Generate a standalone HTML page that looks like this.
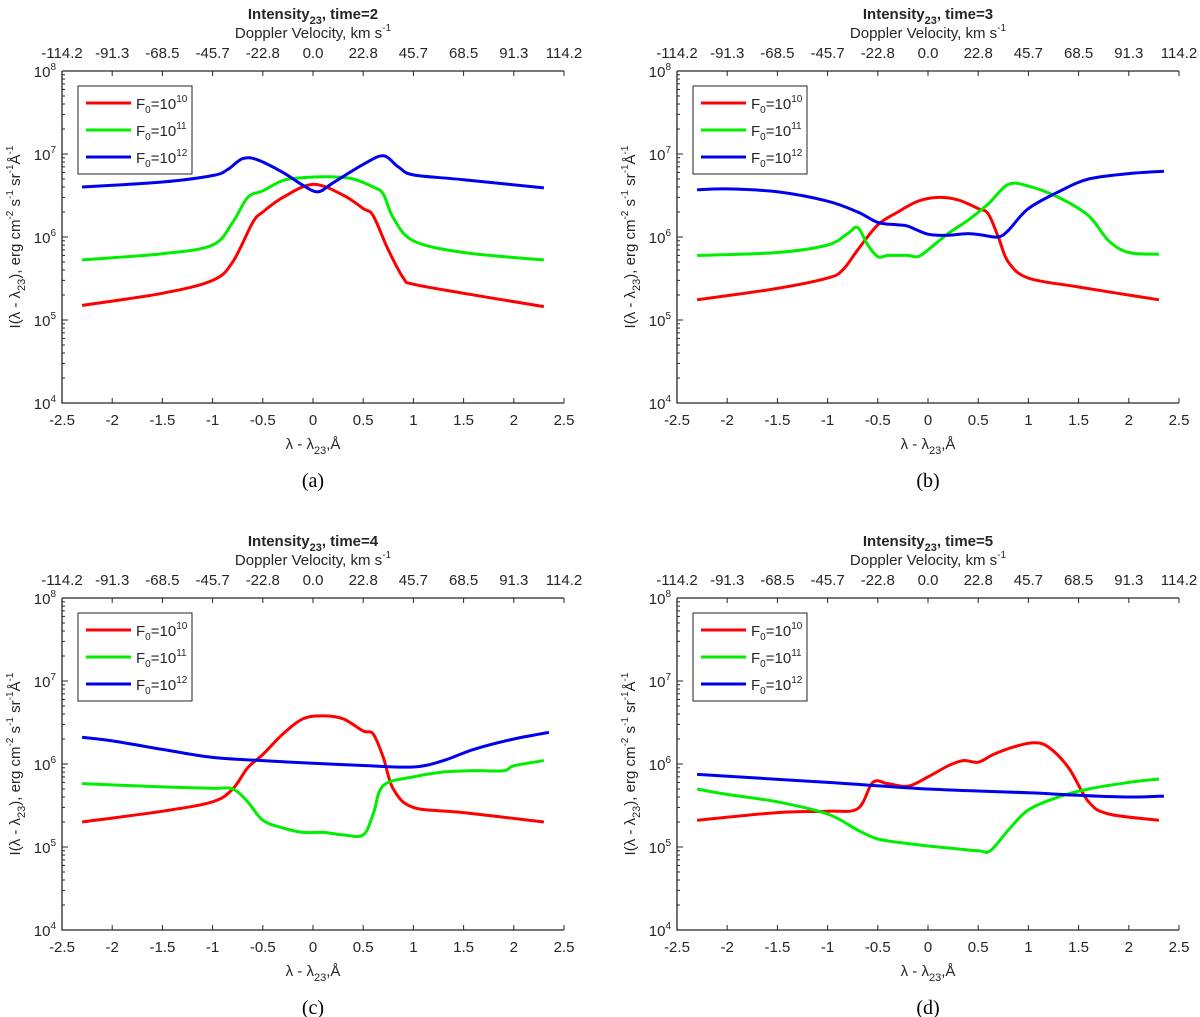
<!DOCTYPE html>
<html><head><meta charset="utf-8"><style>
html,body{margin:0;padding:0;background:#fff}
svg{display:block}
text{font-family:"Liberation Sans",sans-serif;fill:#262626}
.cap{font-family:"Liberation Serif",serif;fill:#000}
</style></head><body>
<svg id="fig" width="1200" height="1017" viewBox="0 0 1200 1017"></svg>
<script>
const xs_a=[-2.3,-1.5,-1,-0.8,-0.6,-0.5,-0.3,0,0.3,0.5,0.6,0.75,0.9,1,1.5,2.3];
const red_a=[1.5e5,2.1e5,3e5,5e5,1.5e6,2e6,3e6,4.3e6,3.2e6,2.2e6,1.8e6,7e5,3.2e5,2.7e5,2.1e5,1.45e5];
const xg_a=[-2.3,-1.5,-1,-0.8,-0.65,-0.5,-0.3,-0.1,0.2,0.4,0.6,0.7,0.8,1,1.5,2.3];
const green_a=[5.3e5,6.3e5,8e5,1.5e6,3e6,3.6e6,4.8e6,5.2e6,5.3e6,5e6,4e6,3.3e6,1.7e6,9e5,6.5e5,5.3e5];
const xb_a=[-2.3,-1.5,-1,-0.85,-0.7,-0.55,-0.3,-0.1,0.05,0.2,0.5,0.7,0.85,1,1.5,2.3];
const blue_a=[4e6,4.6e6,5.5e6,6.5e6,8.8e6,8.5e6,6e6,4.2e6,3.5e6,4.5e6,7.5e6,9.5e6,7e6,5.6e6,4.9e6,3.9e6];

const xr_b=[-2.3,-1.5,-1,-0.85,-0.7,-0.5,-0.3,-0.1,0.1,0.3,0.5,0.6,0.7,0.8,1,1.5,2.3];
const red_b=[1.75e5,2.4e5,3.2e5,4e5,7e5,1.4e6,2e6,2.7e6,3e6,2.8e6,2.2e6,1.9e6,1e6,5e5,3.2e5,2.5e5,1.75e5];
const xg_b=[-2.3,-1.5,-1,-0.8,-0.7,-0.6,-0.5,-0.4,-0.3,-0.2,-0.1,0,0.2,0.4,0.6,0.8,1,1.3,1.6,1.8,2,2.3];
const green_b=[6e5,6.5e5,8e5,1.1e6,1.3e6,8e5,5.8e5,6e5,6e5,6e5,5.8e5,7e5,1.1e6,1.6e6,2.5e6,4.3e6,4.1e6,3e6,1.8e6,9e5,6.5e5,6.2e5];
const xb_b=[-2.3,-2,-1.5,-1,-0.7,-0.5,-0.3,-0.2,0,0.2,0.4,0.55,0.7,0.8,1,1.3,1.6,2,2.35];
const blue_b=[3.7e6,3.8e6,3.5e6,2.7e6,2e6,1.5e6,1.4e6,1.35e6,1.08e6,1.05e6,1.1e6,1.05e6,1e6,1.2e6,2.2e6,3.5e6,5e6,5.8e6,6.2e6];

const xr_c=[-2.3,-1.5,-1,-0.8,-0.65,-0.5,-0.3,-0.1,0.1,0.3,0.5,0.6,0.7,0.8,1,1.5,2.3];
const red_c=[2e5,2.7e5,3.5e5,5e5,9e5,1.3e6,2.3e6,3.5e6,3.8e6,3.5e6,2.5e6,2.3e6,1.2e6,5e5,3e5,2.6e5,2e5];
const xg_c=[-2.3,-1.5,-1,-0.8,-0.65,-0.5,-0.3,-0.1,0.1,0.3,0.5,0.6,0.7,1,1.3,1.6,1.9,2,2.3];
const green_c=[5.8e5,5.3e5,5.1e5,5e5,3.5e5,2.1e5,1.7e5,1.5e5,1.5e5,1.4e5,1.4e5,2.5e5,5.5e5,7e5,8e5,8.3e5,8.3e5,9.5e5,1.1e6];
const xb_c=[-2.3,-2,-1.5,-1,-0.5,0,0.5,1,1.3,1.6,2,2.35];
const blue_c=[2.1e6,1.9e6,1.5e6,1.2e6,1.1e6,1.02e6,9.6e5,9.2e5,1.1e6,1.5e6,2e6,2.4e6];

const xr_d=[-2.3,-1.5,-1,-0.7,-0.55,-0.4,-0.2,0,0.2,0.35,0.5,0.65,0.85,1.05,1.2,1.4,1.6,1.8,2.3];
const red_d=[2.1e5,2.6e5,2.7e5,2.9e5,6e5,5.8e5,5.4e5,7e5,9.5e5,1.1e6,1.05e6,1.3e6,1.6e6,1.8e6,1.6e6,9e5,3.5e5,2.5e5,2.1e5];
const xg_d=[-2.3,-2,-1.5,-1,-0.7,-0.5,-0.2,0.1,0.5,0.62,0.8,1,1.3,1.6,2,2.3];
const green_d=[5e5,4.3e5,3.5e5,2.5e5,1.6e5,1.25e5,1.1e5,1e5,9e4,9e4,1.6e5,2.8e5,4e5,5e5,6e5,6.6e5];
const xb_d=[-2.3,-1,0,1,1.5,2,2.35];
const blue_d=[7.5e5,6e5,5e5,4.5e5,4.2e5,4e5,4.1e5];

const xTicks=[-2.5,-2,-1.5,-1,-0.5,0,0.5,1,1.5,2,2.5];
const xTickLabels=["-2.5","-2","-1.5","-1","-0.5","0","0.5","1","1.5","2","2.5"];
const vTickLabels=["-114.2","-91.3","-68.5","-45.7","-22.8","0.0","22.8","45.7","68.5","91.3","114.2"];
const yDecades=[4,5,6,7,8];
const times=[2,3,4,5];
const captions=["(a)","(b)","(c)","(d)"];

const panels=[
 {x0:62,y0:71,series:[[xs_a,red_a],[xg_a,green_a],[xb_a,blue_a]]},
 {x0:677,y0:71,series:[[xr_b,red_b],[xg_b,green_b],[xb_b,blue_b]]},
 {x0:62,y0:598,series:[[xr_c,red_c],[xg_c,green_c],[xb_c,blue_c]]},
 {x0:677,y0:598,series:[[xr_d,red_d],[xg_d,green_d],[xb_d,blue_d]]}
];
const colors=["#ff0000","#00ee00","#0000ee"];
const legendExp=["10","11","12"];
const W=502,H=332;
const NS="http://www.w3.org/2000/svg";
const svg=document.getElementById('fig');
function mk(tag,attrs,parent){const e=document.createElementNS(NS,tag);for(const k in attrs)e.setAttribute(k,attrs[k]);(parent||svg).appendChild(e);return e;}
function smooth(pts){
 let d="M"+pts[0][0].toFixed(1)+","+pts[0][1].toFixed(1);
 for(let i=0;i<pts.length-1;i++){
  const p0=pts[Math.max(0,i-1)],p1=pts[i],p2=pts[i+1],p3=pts[Math.min(pts.length-1,i+2)];
  const c1=[p1[0]+(p2[0]-p0[0])/6,p1[1]+(p2[1]-p0[1])/6];
  const c2=[p2[0]-(p3[0]-p1[0])/6,p2[1]-(p3[1]-p1[1])/6];
  d+="C"+c1[0].toFixed(1)+","+c1[1].toFixed(1)+" "+c2[0].toFixed(1)+","+c2[1].toFixed(1)+" "+p2[0].toFixed(1)+","+p2[1].toFixed(1);
 }
 return d;
}
panels.forEach((p,pi)=>{
 const g=mk('g',{});
 
 
 const sx=v=>p.x0+(v+2.5)/5*W;
 const sy=v=>p.y0+H-(Math.log10(v)-4)/4*H;
 const cx=p.x0+W/2;
 // title
 const t=mk('text',{x:cx,y:p.y0-52,'text-anchor':'middle','font-size':15,'font-weight':'bold'},g);
 
 
 t.innerHTML='Intensity<tspan font-size="11" dy="5">23</tspan><tspan dy="-5">, time='+times[pi]+'</tspan>';
 const vt=mk('text',{x:cx,y:p.y0-33,'text-anchor':'middle','font-size':15},g);
 
 
 vt.innerHTML='Doppler Velocity, km s<tspan font-size="10" dy="-7">-1</tspan>';
 // axes lines
 const ax=mk('path',{d:`M${p.x0},${p.y0}H${p.x0+W}M${p.x0},${p.y0}V${p.y0+H}H${p.x0+W}`,stroke:'#262626','stroke-width':1.3,fill:'none'},g);
 
 
 xTicks.forEach((v,i)=>{
  const x=sx(v);
  mk('path',{d:`M${x},${p.y0+H}v-5M${x},${p.y0}v5`,stroke:'#262626','stroke-width':1},g);
  const tl=mk('text',{x:x,y:p.y0+H+22,'text-anchor':'middle','font-size':15},g);
  
  
  tl.textContent=xTickLabels[i];
  const tt=mk('text',{x:x,y:p.y0-13,'text-anchor':'middle','font-size':15},g);
  
  
  tt.textContent=vTickLabels[i];
 });
 yDecades.forEach(d=>{
  const y=sy(Math.pow(10,d));
  mk('path',{d:`M${p.x0},${y}h6`,stroke:'#262626','stroke-width':1},g);
  const yl=mk('text',{x:p.x0-6,y:y+6,'text-anchor':'end','font-size':15},g);
  
  
  yl.innerHTML='10<tspan font-size="10" dy="-7">'+d+'</tspan>';
  if(d<8)for(let m=2;m<10;m++){const yy=sy(m*Math.pow(10,d));mk('path',{d:`M${p.x0},${yy}h3`,stroke:'#262626','stroke-width':1},g);}
 });
 const xl=mk('text',{x:cx,y:p.y0+H+46,'text-anchor':'middle','font-size':15},g);
 
 
 xl.innerHTML='λ - λ<tspan font-size="11" dy="5">23</tspan><tspan dy="-5">,Å</tspan>';
 const yl=mk('text',{x:0,y:0,'text-anchor':'middle','font-size':15,transform:`translate(${p.x0-42},${p.y0+H/2}) rotate(-90)`},g);
 
 
 yl.innerHTML='I(λ - λ<tspan font-size="11" dy="5">23</tspan><tspan dy="-5">), erg cm</tspan><tspan font-size="10" dy="-7">-2</tspan><tspan dy="7"> s</tspan><tspan font-size="10" dy="-7">-1</tspan><tspan dy="7"> sr</tspan><tspan font-size="10" dy="-7">-1</tspan><tspan dy="7">Å</tspan><tspan font-size="10" dy="-7">-1</tspan>';
 const cap=mk('text',{x:cx,y:p.y0+H+84,'text-anchor':'middle','font-size':20,class:'cap'},g);
 
 
 cap.textContent=captions[pi];
 // series
 p.series.forEach((s,si)=>{
  const pts=s[0].map((v,i)=>[sx(v),sy(s[1][i])]);
  const ln=mk('path',{d:smooth(pts),stroke:colors[si],'stroke-width':3,fill:'none','stroke-linejoin':'round'},g);
  
  
 });
 // legend
 const lg=mk('g',{},g);
 
 
 mk('rect',{x:p.x0+16,y:p.y0+15,width:114,height:88,fill:'#fff',stroke:'#262626','stroke-width':1},lg);
 legendExp.forEach((e,i)=>{
  const y=p.y0+32+i*27;
  const le=mk('g',{},lg);
  
  
  mk('path',{d:`M${p.x0+24},${y}h45`,stroke:colors[i],'stroke-width':3},le);
  const lt=mk('text',{x:p.x0+74,y:y+6,'font-size':15},le);
  lt.innerHTML='F<tspan font-size="10" dy="4">0</tspan><tspan dy="-4">=10</tspan><tspan font-size="10" dy="-7">'+e+'</tspan>';
 });
});
</script>
</body></html>
